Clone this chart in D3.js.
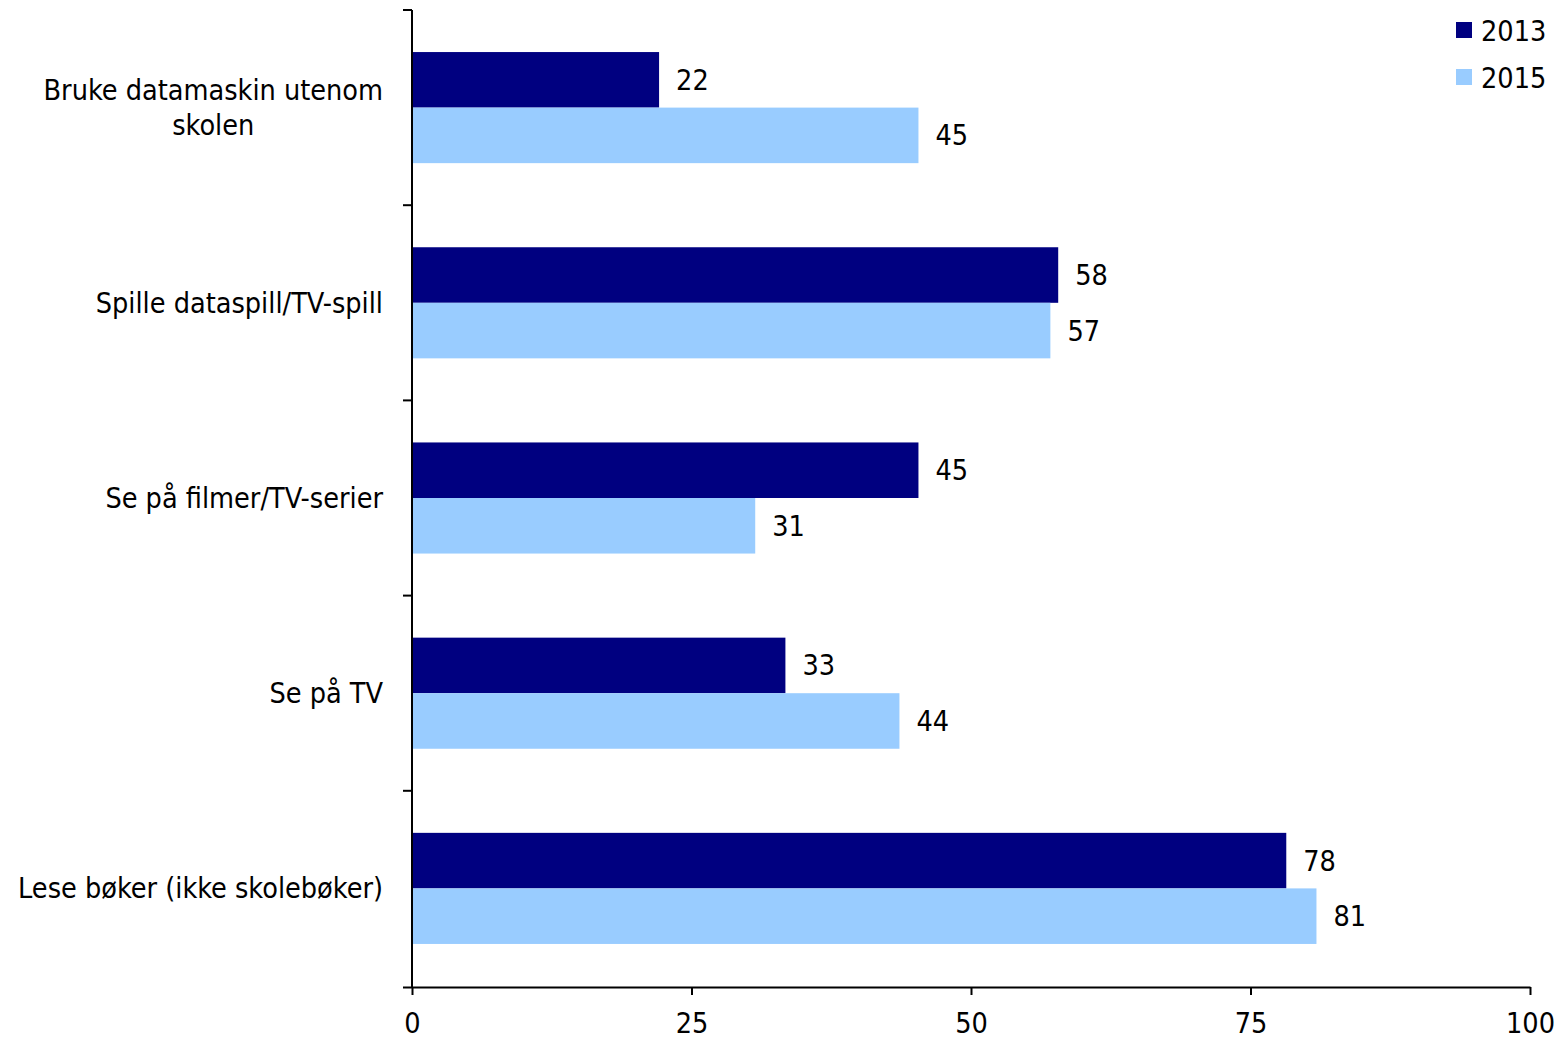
<!DOCTYPE html>
<html><head><meta charset="utf-8">
<script src="https://cdn.jsdelivr.net/npm/d3@7"></script>
<style>body{margin:0;background:#fff}svg{display:block}text{fill:#000}</style>
</head><body><svg id="c" width="1561" height="1042"></svg>
<script>
const categories = [["Bruke datamaskin utenom","skolen"],["Spille dataspill/TV-spill"],["Se på filmer/TV-serier"],["Se på TV"],["Lese bøker (ikke skolebøker)"]];
const seriesNames = ["2013","2015"];
const values2013 = [22.1, 57.8, 45.3, 33.4, 78.2];
const values2015 = [45.3, 57.1, 30.7, 43.6, 80.9];
const xTicks = [0,25,50,75,100];
const colors = ["#000080","#99ccff"];

const svg = d3.select("#c");
// choose font: condensed DejaVu if available
let font = "DejaVu Sans", fs = 25;
{
  const a = svg.append("text").attr("font-family","'DejaVu Sans Condensed', 'DejaVu Sans'").attr("font-size",28).text("Lese bøker (ikke skolebøker)");
  const b = svg.append("text").attr("font-family","'DejaVu Sans'").attr("font-size",28).text("Lese bøker (ikke skolebøker)");
  const wa = a.node().getComputedTextLength(), wb = b.node().getComputedTextLength();
  a.remove(); b.remove();
  if (wa < wb*0.97) { font = "DejaVu Sans Condensed"; fs = Math.min(29, 28*365/wa); }
}
svg.style("font-family", `'${font}', 'DejaVu Sans', sans-serif`);

const x = d3.scaleLinear().domain([0,100]).range([412,1530]);
const y = d3.scaleBand().domain(d3.range(categories.length)).range([10,986]).padding(0);
const ys = d3.scaleBand().domain(seriesNames).range([0,y.bandwidth()]).paddingInner(0).paddingOuter(0.757);
const series = [values2013, values2015];

const g = svg.append("g");
categories.forEach((c,i)=>{
  series.forEach((vals,si)=>{
    const v = vals[i];
    g.append("rect").attr("x",x(0)).attr("y",y(i)+ys(seriesNames[si]))
      .attr("width",x(v)-x(0)).attr("height",ys.bandwidth()).attr("fill",colors[si]);
    g.append("text").attr("x",x(v)+17).attr("y",y(i)+ys(seriesNames[si])+ys.bandwidth()/2+10)
      .attr("font-size",fs).text(d3.format(".0f")(v));
  });
});

// axes
const xAxis = d3.axisBottom(x).tickValues(xTicks).tickSize(8).tickSizeOuter(0).tickPadding(46-8-0.71*fs);
const xa = svg.append("g").attr("transform","translate(0,987)").call(xAxis);
xa.attr("font-family",null).attr("font-size",null);
xa.select(".domain").attr("stroke","#000").attr("stroke-width",2).attr("d","M403,0.5H1530.5");
xa.selectAll(".tick line").attr("stroke","#000").attr("stroke-width",2);
xa.selectAll(".tick text").attr("font-size",fs).attr("fill","#000");

// y axis line and ticks
svg.append("line").attr("x1",412).attr("x2",412).attr("y1",10).attr("y2",987).attr("stroke","#000").attr("stroke-width",2);
d3.range(categories.length).map(i=>y(i)).forEach(b=>svg.append("line").attr("x1",403).attr("x2",412).attr("y1",b).attr("y2",b).attr("stroke","#000").attr("stroke-width",2));

// category labels
categories.forEach((c,i)=>{
  const cy = y(i)+y.bandwidth()/2;
  const lh = 35;
  const t = svg.append("text").attr("font-size",fs);
  if(c.length===1){
    t.attr("x",383).attr("y",cy+10).attr("text-anchor","end").text(c[0]);
  } else {
    const tmp = svg.append("text").attr("font-size",fs).text(c[0]);
    const w = tmp.node().getComputedTextLength(); tmp.remove();
    const cx = 383 - w/2;
    c.forEach((line,li)=>{
      t.append("tspan").attr("x",cx).attr("text-anchor","middle")
        .attr("y",cy+10-lh/2*(c.length-1)+li*lh).text(line);
    });
  }
});

// legend
seriesNames.forEach((s,i)=>{
  const ly = 30 + i*47;
  svg.append("rect").attr("x",1456).attr("y",ly-8).attr("width",16).attr("height",16).attr("fill",colors[i]);
  svg.append("text").attr("x",1481).attr("y",ly+11).attr("font-size",fs).text(s);
});
</script></body></html>
